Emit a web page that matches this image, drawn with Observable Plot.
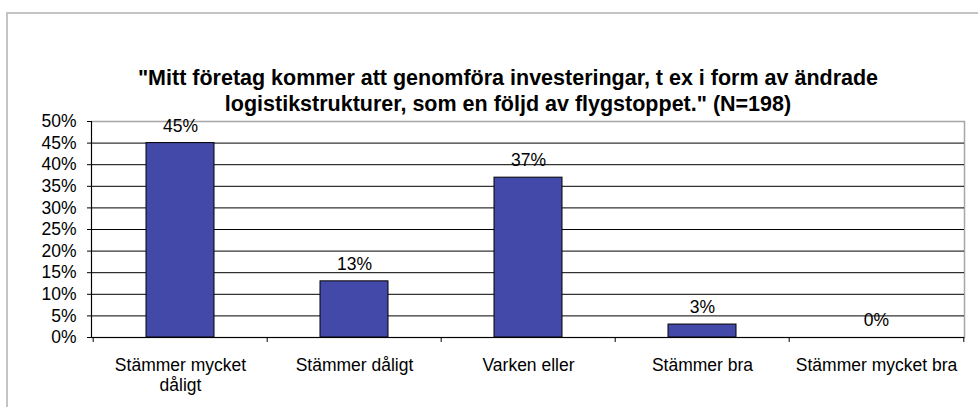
<!DOCTYPE html>
<html><head><meta charset="utf-8">
<script src="https://cdn.jsdelivr.net/npm/d3@7"></script>
<script src="https://cdn.jsdelivr.net/npm/@observablehq/plot@0.6"></script>
<style>
body{margin:0;background:#fff;font-family:"Liberation Sans",Arial,sans-serif;}
#wrap{position:relative;width:978px;height:407px;overflow:hidden;}
#frame{position:absolute;left:6px;top:12px;width:1000px;height:500px;border:2px solid #c4c4c4;box-sizing:border-box}
#title{position:absolute;left:0;width:1016px;top:65px;text-align:center;font-weight:bold;font-size:21.5px;line-height:26px;color:#000}
#chart{position:absolute;left:0;top:0}
</style></head>
<body>
<div id="wrap"><div id="frame"></div>
<div id="title">"Mitt företag kommer att genomföra investeringar, t ex i form av ändrade<br>logistikstrukturer, som en följd av flygstoppet." (N=198)</div>
<div id="chart"></div></div>
<script>
const categories = ["Stämmer mycket dåligt","Stämmer dåligt","Varken eller","Stämmer bra","Stämmer mycket bra"];
const values = [0.45,0.13,0.37,0.03,0.00];
const yTicks = [0,0.05,0.10,0.15,0.20,0.25,0.30,0.35,0.40,0.45,0.50];
const gridTicks = [0.05,0.10,0.15,0.20,0.25,0.30,0.35,0.40,0.45];
const data = categories.map((c,i)=>({cat:c, v:values[i]}));
const W=978,H=407,mL=91,mR=14,mT=121,mB=70;
const step=(W-mL-mR)/categories.length;
const pct=d3.format(".0%");
const chart = Plot.plot({
  width:W,height:H,marginLeft:mL,marginRight:mR,marginTop:mT,marginBottom:mB,
  style:{fontFamily:'"Liberation Sans",Arial,sans-serif',fontSize:"17.5px",color:"#000",background:"transparent"},
  x:{domain:categories,padding:0,axis:null},
  y:{domain:[0,0.5],axis:null},
  marks:[
    Plot.frame({stroke:"#a6a6a6",strokeWidth:1.5}),
    Plot.ruleY(gridTicks,{stroke:"#000",strokeWidth:1}),
    Plot.barY(data,{x:"cat",y:"v",fill:"#4349A8",stroke:"#000",strokeWidth:1,insetLeft:53,insetRight:53}),
    Plot.text(data,{x:"cat",y:"v",text:d=>pct(d.v),dy:-17,fontSize:17.5,fill:"#000"}),
    Plot.frame({anchor:"left",stroke:"#000"}),
    Plot.ruleY([0],{stroke:"#000"}),
    Plot.axisY({ticks:yTicks,tickFormat:pct,tickSize:4,tickPadding:11,fontSize:17.5,label:null}),
    Plot.axisX({tickSize:5,dx:-step/2,tickFormat:()=>"",label:null}),
    Plot.axisX({ticks:[categories[categories.length-1]],tickSize:5,dx:step/2,tickFormat:()=>"",label:null}),
    Plot.axisX({tickSize:0,tickPadding:19,fontSize:17.5,lineHeight:1.15,label:null,
      tickFormat:d=>d.replace("mycket dåligt","mycket\ndåligt")})
  ]
});
document.getElementById("chart").appendChild(chart);
</script>
</body></html>
